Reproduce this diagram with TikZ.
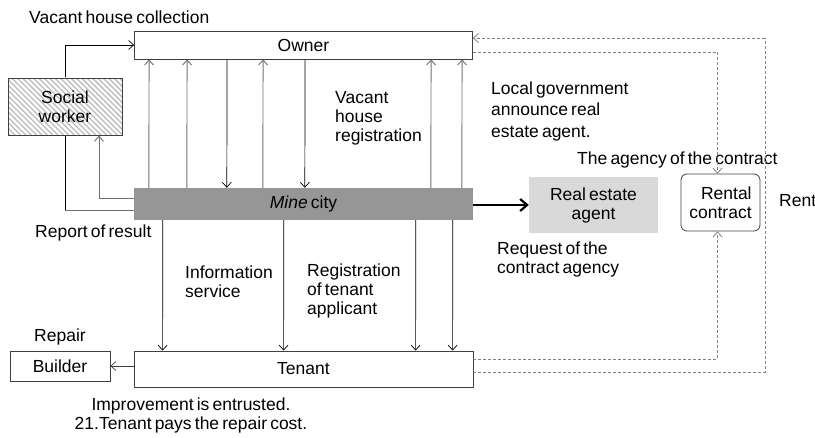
\documentclass[tikz,border=0pt]{standalone}
\usepackage{fontspec}
\setmainfont[WordSpace=0.65]{Liberation Sans}
\usetikzlibrary{arrows.meta,patterns.meta}
\definecolor{citygray}{HTML}{969696}
\definecolor{agentgray}{HTML}{D9D9D9}
\definecolor{linegray}{HTML}{707070}
\definecolor{dashgray}{HTML}{808080}
\definecolor{boxline}{HTML}{404040}
\begin{document}
\begin{tikzpicture}[x=1pt,y=-1pt,
  every node/.style={font=\fontsize{17.5}{19}\selectfont, inner sep=0pt},
  box/.style={draw=boxline, line width=0.8pt, fill=white},
  lbl/.style={anchor=west, align=left},
  tip/.style={-{Straight Barb[length=5pt,width=9pt]}},
  dnarr/.style={tip, draw=black, line width=0.7pt},
  uparr/.style={tip, draw=linegray, line width=0.9pt},
  dasharr/.style={tip, draw=dashgray, line width=0.8pt, dash pattern=on 3pt off 2pt},
  dashline/.style={draw=dashgray, line width=0.8pt, dash pattern=on 3pt off 2pt}]
\useasboundingbox (0,0) rectangle (815,437);

% boxes
\node[box, minimum width=338pt, minimum height=28pt] (owner) at (303.5,45) {Owner};
\node[fill=citygray, minimum width=339pt, minimum height=32pt] (city) at (303.5,204) {\textit{Mine} city};
\node[box, minimum width=339pt, minimum height=36pt] (tenant) at (303.5,369) {Tenant};
\node[box, minimum width=100pt, minimum height=30pt] (builder) at (60,366) {Builder};
\node[draw=boxline, line width=0.8pt, pattern={Lines[angle=-45,distance=3.8pt,line width=1.3pt]}, pattern color=gray!55,
      minimum width=114pt, minimum height=57pt, align=center] (sw) at (65,106.5) {};
\node[align=center] at (sw) {Social\\worker};
\node[fill=agentgray, minimum width=129pt, minimum height=56pt, align=center] (agent) at (593.5,205) {Real estate\\agent};
\node[box, rounded corners=6pt, minimum width=79pt, minimum height=57pt, align=right] (rental) at (720.5,202.5) {Rental\\contract};

% labels
\node[lbl] at (29,17) {Vacant house collection};
\node[lbl] at (335,118) {Vacant\\house\\registration};
\node[lbl, font=\fontsize{17.5}{21.5}\selectfont] at (491,111) {Local government\\announce real\\estate agent.};
\node[lbl] at (577,160) {The agency of the contract};
\node[lbl] at (779,201) {Rent};
\node[lbl] at (35,233) {Report of result};
\node[lbl] at (185,281.5) {Information\\service};
\node[lbl] at (307,291) {Registration\\of tenant\\applicant};
\node[lbl] at (497,259) {Request of the\\contract agency};
\node[lbl] at (34,337) {Repair};
\node[align=center] at (191,415) {Improvement is entrusted.\\21.Tenant pays the repair cost.};

% city <-> owner
\foreach \dx in {15,53,129,297,328}
  \draw[uparr] ([xshift=\dx pt]city.north west) -- ([xshift=\dx pt]owner.south west);
\foreach \dx in {93,171}
  \draw[dnarr] ([xshift=\dx pt]owner.south west) -- ([xshift=\dx pt]city.north west);
% city -> tenant
\foreach \dx in {29,150,282,319}
  \draw[dnarr] ([xshift=\dx pt]city.south west) -- ([xshift=\dx pt]tenant.north west);

% social worker
\draw[dnarr] (sw.north) |- (owner.west);
\draw[draw=black, line width=0.8pt] (sw.south) -- ([yshift=-6pt]sw.south |- city.west);
\draw[draw=linegray, line width=0.9pt] ([yshift=-6pt]sw.south |- city.west) -- ([yshift=-6pt]city.west);
\draw[uparr] ([yshift=6pt]city.west) -| ([xshift=34pt]sw.south);

% city -> agent
\draw[-{Straight Barb[length=7pt,width=12pt]}, line width=2.2pt] (city.east |- agent.west) -- (agent.west);

% tenant -> builder
\draw[dnarr, draw=boxline] (builder.east -| tenant.west) -- (builder.east);

% dashed
\draw[dasharr] ([yshift=-7pt]owner.east) -| ([xshift=-3pt]rental.north);
\draw[dasharr] ([yshift=10pt]tenant.east) -| ([xshift=-3pt]rental.south);
\coordinate (rc) at (765,38);
\draw[dashline] ([yshift=-3pt]tenant.east) -| (rc);
\draw[dasharr] (rc) -- ([yshift=7pt]owner.east);
\end{tikzpicture}
\end{document}
